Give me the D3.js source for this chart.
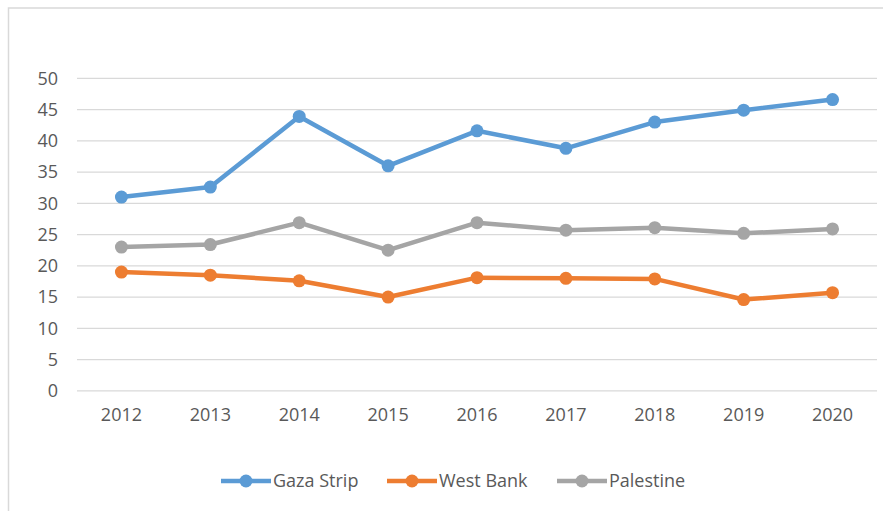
<!DOCTYPE html>
<html>
<head>
<meta charset="utf-8">
<script src="https://cdn.jsdelivr.net/npm/d3@7"></script>
<style>
  body { margin: 0; background: #fff; }
  text { font-family: "Open Sans", sans-serif; fill: #595959; }
</style>
</head>
<body>
<script>
// chart data
var years = ['2012', '2013', '2014', '2015', '2016', '2017', '2018', '2019', '2020'];
var gazaStrip = [31.0, 32.6, 43.9, 36.0, 41.6, 38.8, 43.0, 44.9, 46.6];
var westBank = [19.0, 18.5, 17.6, 15.0, 18.1, 18.0, 17.9, 14.6, 15.7];
var palestine = [23.0, 23.4, 26.9, 22.5, 26.9, 25.7, 26.1, 25.2, 25.9];
var yTicks = [0, 5, 10, 15, 20, 25, 30, 35, 40, 45, 50];
var seriesNames = ['Gaza Strip', 'West Bank', 'Palestine'];

var W = 883, H = 511;
var margin = {top: 78, right: 6, bottom: 120, left: 77};
var width = 800, height = 312.5;

var series = [
  {name: seriesNames[0], values: gazaStrip, color: '#5b9bd5'},
  {name: seriesNames[1], values: westBank, color: '#ed7d31'},
  {name: seriesNames[2], values: palestine, color: '#a5a5a5'}
];

var root = d3.select('body').append('svg')
  .attr('width', W)
  .attr('height', H);

// outer frame (only top and left visible)
root.append('rect')
  .attr('x', 8.5).attr('y', 8)
  .attr('width', W + 20).attr('height', H + 20)
  .attr('fill', 'none')
  .attr('stroke', '#d9d9d9')
  .attr('stroke-width', 1.5);

var svg = root.append('g')
  .attr('transform', 'translate(' + margin.left + ',' + (margin.top + 0.3) + ')');

var x = d3.scaleBand().domain(years).range([0, width]);
var y = d3.scaleLinear().domain([0, 50]).range([height, 0]);

// gridlines
svg.append('g')
  .selectAll('line')
  .data(yTicks)
  .enter()
  .append('line')
  .attr('x1', 0).attr('x2', width)
  .attr('y1', function(d) { return y(d); })
  .attr('y2', function(d) { return y(d); })
  .attr('stroke', '#d9d9d9')
  .attr('stroke-width', 1.3);

// y axis labels
var yAxis = svg.append('g')
  .attr('transform', 'translate(-19,0)')
  .call(d3.axisLeft(y).tickValues(yTicks).tickSize(0).tickPadding(0));
yAxis.select('.domain').remove();
yAxis.selectAll('text')
  .attr('font-size', 18)
  .attr('fill', '#595959')
  .style('font-family', '"Open Sans", sans-serif');

// x axis labels
var xAxis = svg.append('g')
  .attr('transform', 'translate(0,' + height + ')')
  .call(d3.axisBottom(x).tickSize(0).tickPadding(17));
xAxis.select('.domain').remove();
xAxis.selectAll('text')
  .attr('font-size', 18)
  .attr('fill', '#595959')
  .style('font-family', '"Open Sans", sans-serif');

var line = d3.line()
  .x(function(d, i) { return x(years[i]) + x.bandwidth() / 2; })
  .y(function(d) { return y(d); });

series.forEach(function(s) {
  svg.append('path')
    .datum(s.values)
    .attr('d', line)
    .attr('fill', 'none')
    .attr('stroke', s.color)
    .attr('stroke-width', 4.5)
    .attr('stroke-linejoin', 'round');

  svg.selectAll(null)
    .data(s.values)
    .enter()
    .append('circle')
    .attr('cx', function(d, i) { return x(years[i]) + x.bandwidth() / 2; })
    .attr('cy', function(d) { return y(d); })
    .attr('r', 6.5)
    .attr('fill', s.color);
});

// legend
var legendX = [221, 387, 557];
var legend = root.append('g').attr('transform', 'translate(0,481)');
series.forEach(function(s, i) {
  var g = legend.append('g').attr('transform', 'translate(' + legendX[i] + ',0)');
  g.append('line')
    .attr('x1', 0).attr('x2', 50)
    .attr('stroke', s.color)
    .attr('stroke-width', 4.5);
  g.append('circle')
    .attr('cx', 25)
    .attr('r', 6.5)
    .attr('fill', s.color);
  g.append('text')
    .attr('x', 52)
    .attr('dy', '0.35em')
    .attr('font-size', 18)
    .text(s.name);
});
</script>
</body>
</html>
